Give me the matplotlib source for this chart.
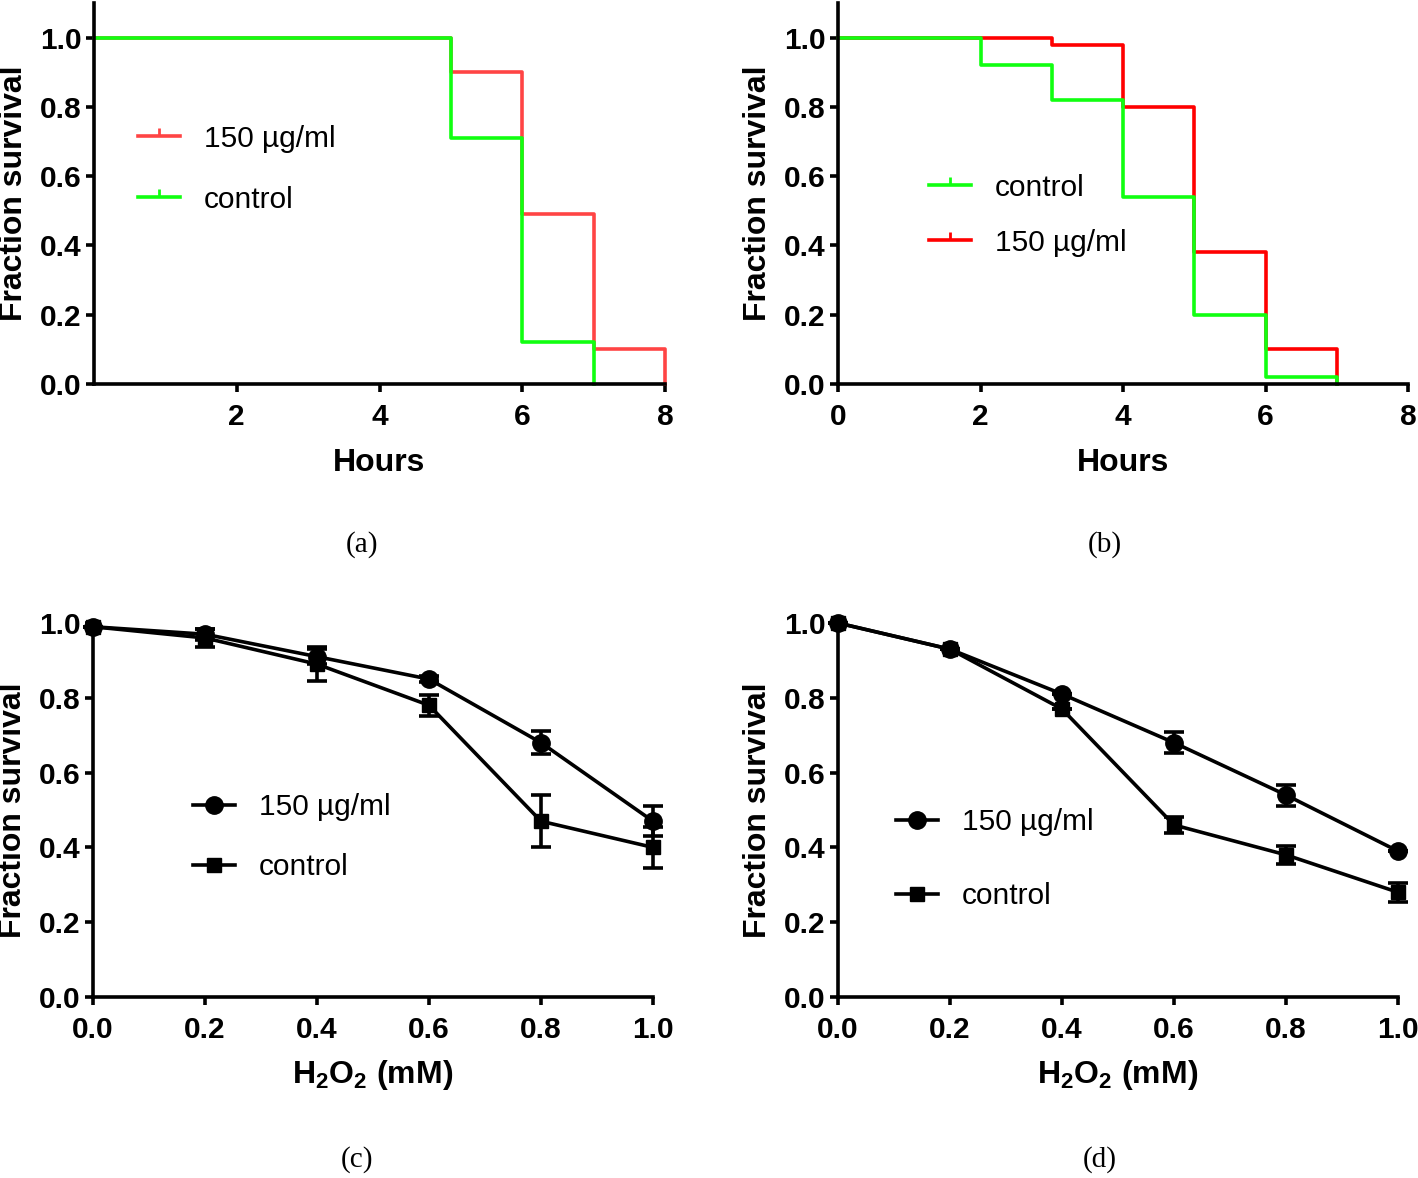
# Recreate 4-panel survival figure
import numpy as np
import matplotlib.pyplot as plt
from matplotlib.lines import Line2D
from matplotlib.path import Path

plt.rcParams['font.family'] = ['Liberation Sans', 'DejaVu Sans']
plt.rcParams['mathtext.fontset'] = 'custom'
plt.rcParams['mathtext.rm'] = 'Liberation Sans:bold'
plt.rcParams['mathtext.bf'] = 'Liberation Sans:bold'

# (a) survival over time
a_t_treat = [0, 5, 6, 7, 8]
a_s_treat = [1.0, 0.90, 0.49, 0.10, 0.0]
a_t_ctrl = [0, 5, 6, 7]
a_s_ctrl = [1.0, 0.71, 0.12, 0.0]

# (b) survival over time
b_t_treat = [0, 3, 4, 5, 6, 7]
b_s_treat = [1.0, 0.98, 0.80, 0.38, 0.10, 0.0]
b_t_ctrl = [0, 2, 3, 4, 5, 6, 7]
b_s_ctrl = [1.0, 0.92, 0.82, 0.54, 0.20, 0.02, 0.0]

# (c), (d) survival vs H2O2
h2o2 = [0.0, 0.2, 0.4, 0.6, 0.8, 1.0]
c_treat = [0.99, 0.97, 0.91, 0.85, 0.68, 0.47]
c_treat_err = [0.0, 0.015, 0.02, 0.008, 0.03, 0.04]
c_ctrl = [0.99, 0.96, 0.89, 0.78, 0.47, 0.40]
c_ctrl_err = [0.0, 0.025, 0.045, 0.028, 0.07, 0.055]
d_treat = [1.0, 0.93, 0.81, 0.68, 0.54, 0.39]
d_treat_err = [0.0, 0.0, 0.0, 0.028, 0.028, 0.0]
d_ctrl = [1.0, 0.93, 0.77, 0.46, 0.38, 0.28]
d_ctrl_err = [0.0, 0.0, 0.0, 0.022, 0.025, 0.025]

LW = 2.6
W, H = 1418, 1178
fig = plt.figure(figsize=(W / 100, H / 100), dpi=100)


def px_axes(x0, x1, y_top, y_bot):
    return fig.add_axes([x0 / W, 1 - y_bot / H, (x1 - x0) / W, (y_bot - y_top) / H])


def style(ax):
    for s in ['top', 'right']:
        ax.spines[s].set_visible(False)
    for s in ['left', 'bottom']:
        ax.spines[s].set_linewidth(LW)
    ax.tick_params(width=LW, length=6, labelsize=21.5)
    ax.tick_params(axis='x', pad=8)
    ax.tick_params(axis='y', pad=3)
    for lab in ax.get_xticklabels() + ax.get_yticklabels():
        lab.set_fontweight('bold')
    ax.set_ylabel('Fraction survival', fontsize=23, fontweight='bold', labelpad=8)


tick_mark = Path([(0, 0), (0, 1)])


def km_handle(color):
    return Line2D([], [], color=color, lw=LW, marker=tick_mark, ms=11, mew=2, mec=color)


LEG = dict(loc='upper left', frameon=False, fontsize=21.5, handlelength=1.4,
           handletextpad=0.8, borderpad=0, borderaxespad=0)

# panel (a)
ax = px_axes(94, 665, 3, 384)
ax.step(a_t_treat, a_s_treat, where='post', color='#ff4444', lw=LW, clip_on=False)
ax.step(a_t_ctrl, a_s_ctrl, where='post', color='#11ff11', lw=LW, clip_on=False)
ax.set_xlim(0, 8)
ax.set_ylim(0, 1.1)
ax.set_xticks([2, 4, 6, 8])
ax.set_yticks(np.arange(0, 1.01, 0.2))
ax.set_yticklabels(['0.0', '0.2', '0.4', '0.6', '0.8', '1.0'])
ax.set_xlabel('Hours', fontsize=23, fontweight='bold', labelpad=12)
style(ax)
ax.legend([km_handle('#ff4444'), km_handle('#11ff11')], ['150 µg/ml', 'control'],
          bbox_to_anchor=(0.077, 0.68), labelspacing=1.1, **LEG)

# panel (b)
ax = px_axes(838, 1408, 3, 384)
ax.step(b_t_treat, b_s_treat, where='post', color='#ff0000', lw=LW, clip_on=False)
ax.step(b_t_ctrl, b_s_ctrl, where='post', color='#11ff11', lw=LW, clip_on=False)
ax.set_xlim(0, 8)
ax.set_ylim(0, 1.1)
ax.set_xticks([0, 2, 4, 6, 8])
ax.set_yticks(np.arange(0, 1.01, 0.2))
ax.set_yticklabels(['0.0', '0.2', '0.4', '0.6', '0.8', '1.0'])
ax.set_xlabel('Hours', fontsize=23, fontweight='bold', labelpad=12)
style(ax)
ax.legend([km_handle('#11ff11'), km_handle('#ff0000')], ['control', '150 µg/ml'],
          bbox_to_anchor=(0.16, 0.552), labelspacing=0.9, **LEG)


def dose_panel(x0, x1, treat, treat_err, ctrl, ctrl_err, leg_anchor, leg_space):
    ax = px_axes(x0, x1, 623, 997)
    for y, e, m, ms in [(ctrl, ctrl_err, 's', 9.5), (treat, treat_err, 'o', 12.5)]:
        cont = ax.errorbar(h2o2, y, yerr=e, fmt='-' + m, color='k', lw=LW, ms=ms,
                           capsize=7, capthick=LW, elinewidth=LW)
        for art in cont.get_children():
            art.set_clip_on(False)
    ax.set_xlim(0, 1.0)
    ax.set_ylim(0, 1.0)
    ax.set_xticks(h2o2)
    ax.set_xticklabels(['0.0', '0.2', '0.4', '0.6', '0.8', '1.0'])
    ax.set_yticks(np.arange(0, 1.01, 0.2))
    ax.set_yticklabels(['0.0', '0.2', '0.4', '0.6', '0.8', '1.0'])
    ax.set_xlabel(r'H$_\mathbf{2}$O$_\mathbf{2}$ (mM)', fontsize=23, fontweight='bold', labelpad=10)
    style(ax)
    handles = [Line2D([], [], color='k', lw=LW, marker='o', ms=12.5),
               Line2D([], [], color='k', lw=LW, marker='s', ms=9.5)]
    ax.legend(handles, ['150 µg/ml', 'control'], bbox_to_anchor=leg_anchor,
              labelspacing=leg_space, **LEG)
    return ax


dose_panel(93, 653, c_treat, c_treat_err, c_ctrl, c_ctrl_err, (0.179, 0.545), 1.07)
dose_panel(838, 1398, d_treat, d_treat_err, d_ctrl, d_ctrl_err, (0.104, 0.505), 1.55)

# captions
for x, y, t in [(362, 545, '(a)'), (1105, 545, '(b)'), (357, 1160, '(c)'), (1100, 1160, '(d)')]:
    fig.text(x / W, 1 - y / H, t, ha='center', va='center', fontsize=21, family='Liberation Serif')

fig.savefig('out.png', dpi=100)
